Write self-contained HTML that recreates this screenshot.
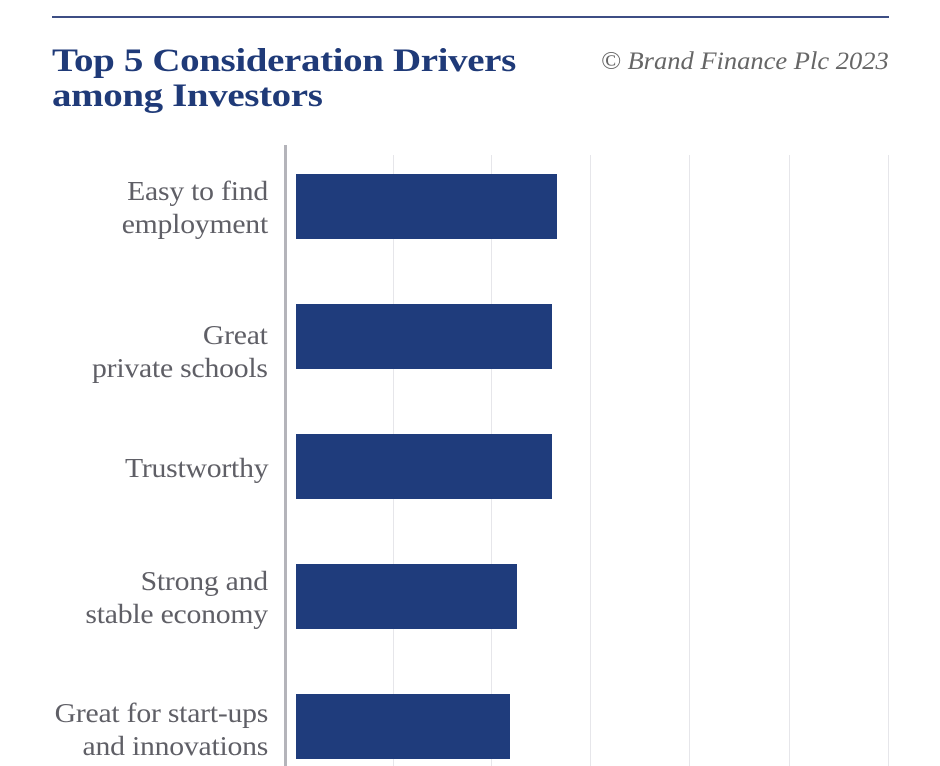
<!DOCTYPE html>
<html><head><style>
body{margin:0;width:940px;height:766px;background:#fff;position:relative;overflow:hidden;font-family:"Liberation Serif",serif}
.abs{position:absolute}
.t{left:52px;top:44px;font-size:33px;font-weight:bold;color:#1f3a78;line-height:35px;letter-spacing:-0.3px;transform:scaleX(1.18);transform-origin:left top;white-space:nowrap}
.c{right:51px;top:48px;font-size:25px;font-style:italic;color:#666;transform:scaleX(1.06);transform-origin:right top;white-space:nowrap}
.lab{right:672px;font-size:27px;color:#5f5f66;text-align:right;line-height:33px;letter-spacing:-0.2px;transform:scaleX(1.1);transform-origin:right top;white-space:nowrap}
.bar{left:296px;height:65px;background:#1f3c7c}
.g{top:155px;bottom:0;width:1px;background:#e6e6ea}
</style></head><body>
<div class="abs" style="left:52px;top:16px;width:837px;height:2px;background:#3d4e84"></div>
<div class="abs t">Top 5 Consideration Drivers<br>among Investors</div>
<div class="abs c">© Brand Finance Plc 2023</div>
<div class="abs g" style="left:393px"></div>
<div class="abs g" style="left:491px"></div>
<div class="abs g" style="left:590px"></div>
<div class="abs g" style="left:689px"></div>
<div class="abs g" style="left:789px"></div>
<div class="abs g" style="left:888px"></div>
<div class="abs" style="left:284px;top:145px;width:3px;height:621px;background:#b4b4ba"></div>
<div class="abs bar" style="top:174px;width:261px"></div>
<div class="abs bar" style="top:304px;width:256px"></div>
<div class="abs bar" style="top:434px;width:256px"></div>
<div class="abs bar" style="top:564px;width:221px"></div>
<div class="abs bar" style="top:694px;width:214px"></div>
<div class="abs lab" style="top:175px">Easy to find<br>employment</div>
<div class="abs lab" style="top:319px">Great<br>private schools</div>
<div class="abs lab" style="top:452px">Trustworthy</div>
<div class="abs lab" style="top:565px">Strong and<br>stable economy</div>
<div class="abs lab" style="top:697px">Great for start-ups<br>and innovations</div>
</body></html>
